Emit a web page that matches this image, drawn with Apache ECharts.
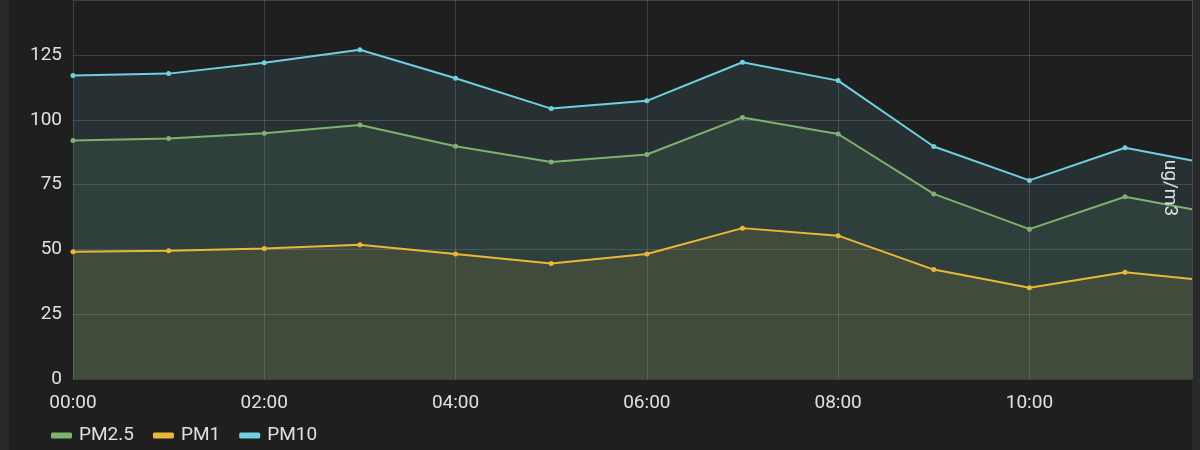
<!DOCTYPE html>
<html>
<head>
<meta charset="utf-8">
<script src="https://cdn.jsdelivr.net/npm/echarts@6/dist/echarts.min.js"></script>
<style>
html,body{margin:0;padding:0;background:#1f1f20;}
#c{width:1200px;height:450px;}
</style>
</head>
<body>
<div id="c"></div>
<script>
// Data
var times = ['00:00','01:00','02:00','03:00','04:00','05:00','06:00','07:00','08:00','09:00','10:00','11:00','11:42'];
var pm25 = [92.0, 92.8, 94.8, 98.0, 89.8, 83.7, 86.6, 100.9, 94.5, 71.4, 57.8, 70.3, 65.5];
var pm1  = [49.1, 49.5, 50.3, 51.8, 48.2, 44.6, 48.2, 58.2, 55.3, 42.2, 35.2, 41.2, 38.6];
var pm10 = [117.1, 117.8, 122.0, 127.0, 116.0, 104.3, 107.3, 122.2, 115.1, 89.7, 76.6, 89.2, 84.3];
var xTickLabels = ['00:00','02:00','04:00','06:00','08:00','10:00'];
var yTicks = [0, 25, 50, 75, 100, 125];

function toHours(t){ var p = t.split(':'); return +p[0] + (+p[1])/60; }
function build(vals){
  return vals.map(function(v,i){
    var item = {value:[toHours(times[i]), v]};
    if (i === vals.length-1) item.symbol = 'none';
    return item;
  });
}
var xMax = toHours(times[times.length-1]);
var textColor = '#e0e0e1';
var gridColor = 'rgba(255,255,255,0.15)';
var colors = {pm25:'#7eb26d', pm1:'#eab839', pm10:'#6ed0e0'};

function series(name, vals, color){
  return {
    name:name, type:'line', data:build(vals),
    symbol:'circle', symbolSize:5, showSymbol:true,
    lineStyle:{width:2, color:color}, itemStyle:{color:color},
    areaStyle:{color:color, opacity:0.105},
    clip:true, animation:false
  };
}

var chart = echarts.init(document.getElementById('c'));
chart.setOption({
  backgroundColor:'#1f1f20',
  animation:false,
  textStyle:{fontFamily:'Roboto'},
  grid:{left:73, right:8, top:-2, bottom:71, containLabel:false},
  xAxis:{
    type:'value', min:0, max:xMax, interval:2,
    axisLine:{show:false}, axisTick:{show:false},
    splitLine:{show:true, lineStyle:{color:gridColor, width:1}},
    axisLabel:{
      color:textColor, fontSize:19, margin:15, showMaxLabel:false,
      formatter:function(v){ var i = Math.round(v/2); return (Math.abs(v-2*i)<1e-6 && xTickLabels[i]) ? xTickLabels[i] : ''; }
    }
  },
  yAxis:{
    type:'value', min:yTicks[0], max:146.2, interval:yTicks[1]-yTicks[0],
    axisLine:{show:false}, axisTick:{show:false},
    splitLine:{show:true, lineStyle:{color:gridColor, width:1}},
    axisLabel:{
      color:textColor, fontSize:19, margin:11, showMaxLabel:false,
      formatter:function(v){ return yTicks.indexOf(v) >= 0 ? String(v) : ''; }
    }
  },
  legend:{
    left:46, top:421, icon:'roundRect', itemWidth:21, itemHeight:6, itemGap:19,
    textStyle:{color:textColor, fontSize:19, padding:[0,0,0,2]},
    data:['PM2.5','PM1','PM10']
  },
  graphic:[
    {type:'rect', left:0, top:0, shape:{width:9, height:450}, style:{fill:'#27292a'}, z:-10, silent:true},
    {type:'rect', left:1192, top:0, shape:{width:8, height:450}, style:{fill:'#27292a'}, z:-10, silent:true},
    {type:'text', x:1170, y:188, rotation:-Math.PI/2,
     style:{text:'ug/m3', fill:textColor, font:'19px Roboto', align:'center', verticalAlign:'middle'}, z:100}
  ],
  series:[
    series('PM2.5', pm25, colors.pm25),
    series('PM1', pm1, colors.pm1),
    series('PM10', pm10, colors.pm10)
  ]
});
</script>
</body>
</html>
